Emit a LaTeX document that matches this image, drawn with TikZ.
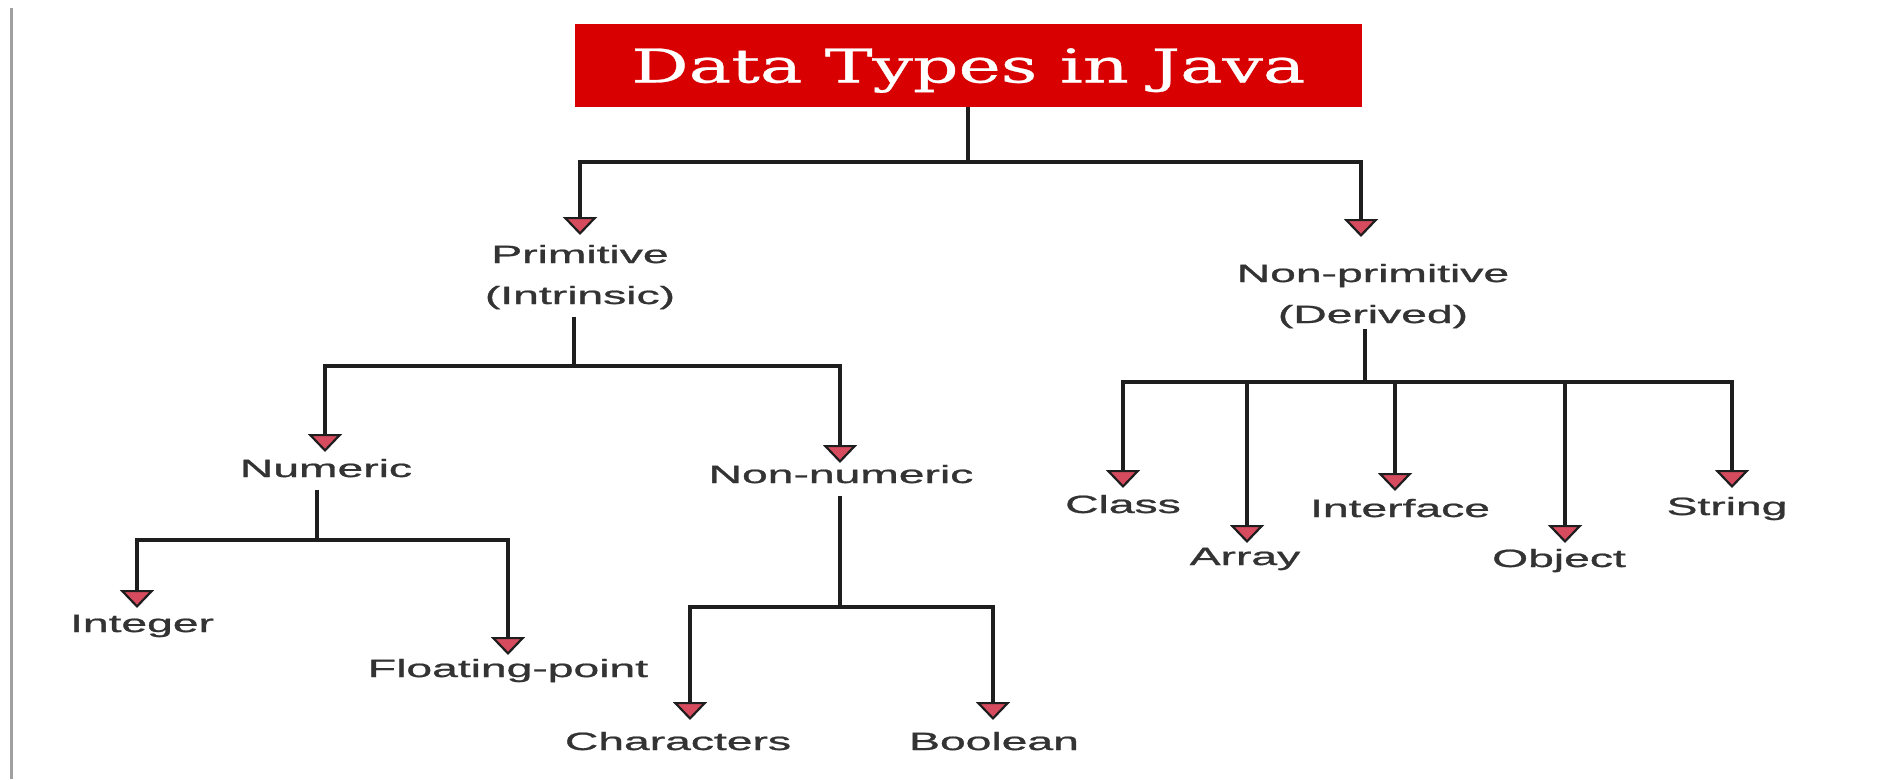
\documentclass[tikz,border=0pt]{standalone}
\usepackage{fontspec}
\usepackage{graphicx}
\newfontfamily\lsans[FakeBold=0.8]{Liberation Sans}
\newfontfamily\lserif[FakeBold=0.6]{DejaVu Serif}
\usetikzlibrary{arrows.meta}
\definecolor{titlered}{HTML}{D80000}
\definecolor{tipfill}{HTML}{D74B5F}
\definecolor{linecol}{HTML}{1E1E1E}
\definecolor{txt}{HTML}{333333}
\definecolor{edgegrey}{HTML}{A0A0A0}
\newcommand\lbl[1]{\scalebox{1.85}[1]{\begin{tabular}[t]{@{}c@{}}#1\end{tabular}}}
\begin{document}
\begin{tikzpicture}[x=1pt,y=-1pt,
  lab/.style={anchor=base, inner sep=0pt, text=txt, font=\lsans\fontsize{25}{41}\selectfont},
  ln/.style={draw=linecol, line width=3.5pt},
  arr/.style={ln, -{Triangle[width=34pt,length=18pt,line width=2.2pt,fill=tipfill]}},
  titlebox/.style={fill=titlered, minimum width=787pt, minimum height=83pt, inner sep=0pt,
    text=white, text height=34pt, text depth=0pt, font=\lserif\fontsize{46.6}{56}\selectfont}]
\useasboundingbox (0,0) rectangle (1895,779);
\fill[white] (0,0) rectangle (1895,779);
\draw[edgegrey, line width=3pt] (11.5,8) -- (11.5,779);

\node[titlebox] (title) at (968.5,65.5) {\resizebox{674pt}{\height}{Data Types in Java}};

\node[lab] (prim) at (580,263) {\lbl{Primitive\\(Intrinsic)}};
\node[lab] (nonprim) at (1373,282) {\lbl{Non-primitive\\(Derived)}};
\node[lab] (num) at (326,477) {\lbl{Numeric}};
\node[lab] (nonnum) at (841,483) {\lbl{Non-numeric}};
\node[lab] (int) at (142,632) {\lbl{Integer}};
\node[lab] (float) at (508,677) {\lbl{Floating-point}};
\node[lab] (chars) at (678,750) {\lbl{Characters}};
\node[lab] (bool) at (994,750) {\lbl{Boolean}};
\node[lab] (class) at (1123,513) {\lbl{Class}};
\node[lab] (array) at (1245,565) {\lbl{Array}};
\node[lab] (iface) at (1400,517) {\lbl{Interface}};
\node[lab] (object) at (1559,567) {\lbl{Object}};
\node[lab] (string) at (1727,515) {\lbl{String}};

\coordinate (j0) at (968,162);
\coordinate (aPrim) at (580,235);
\coordinate (aNonprim) at (1361,237);
\coordinate (j1) at (574,366);
\coordinate (aNum) at (325,452);
\coordinate (aNonnum) at (840,463);
\coordinate (j2) at (317,540);
\coordinate (aInt) at (137,608);
\coordinate (aFloat) at (508,655);
\coordinate (j3) at (840,607);
\coordinate (aChars) at (690,720);
\coordinate (aBool) at (993,720);
\coordinate (j4) at (1365,382);
\coordinate (aClass) at (1123,488);
\coordinate (aArray) at (1247,543);
\coordinate (aIface) at (1395,491);
\coordinate (aObject) at (1565,543);
\coordinate (aString) at (1732,488);

\draw[ln] (title.south -| j0) -- (j0);
\draw[arr] (j0) -| (aPrim);
\draw[arr] (j0) -| (aNonprim);

\draw[ln] (prim.south -| j1) -- (j1);
\draw[arr] (j1) -| (aNum);
\draw[arr] (j1) -| (aNonnum);

\draw[ln] (num.south -| j2) -- (j2);
\draw[arr] (j2) -| (aInt);
\draw[arr] (j2) -| (aFloat);

\draw[ln] (nonnum.south -| j3) -- (j3);
\draw[arr] (j3) -| (aChars);
\draw[arr] (j3) -| (aBool);

\draw[ln] ([yshift=7pt]nonprim.south -| j4) -- (j4);
\draw[arr] (j4) -| (aClass);
\draw[arr] (j4) -| (aArray);
\draw[arr] (j4) -| (aIface);
\draw[arr] (j4) -| (aObject);
\draw[arr] (j4) -| (aString);
\end{tikzpicture}
\end{document}
